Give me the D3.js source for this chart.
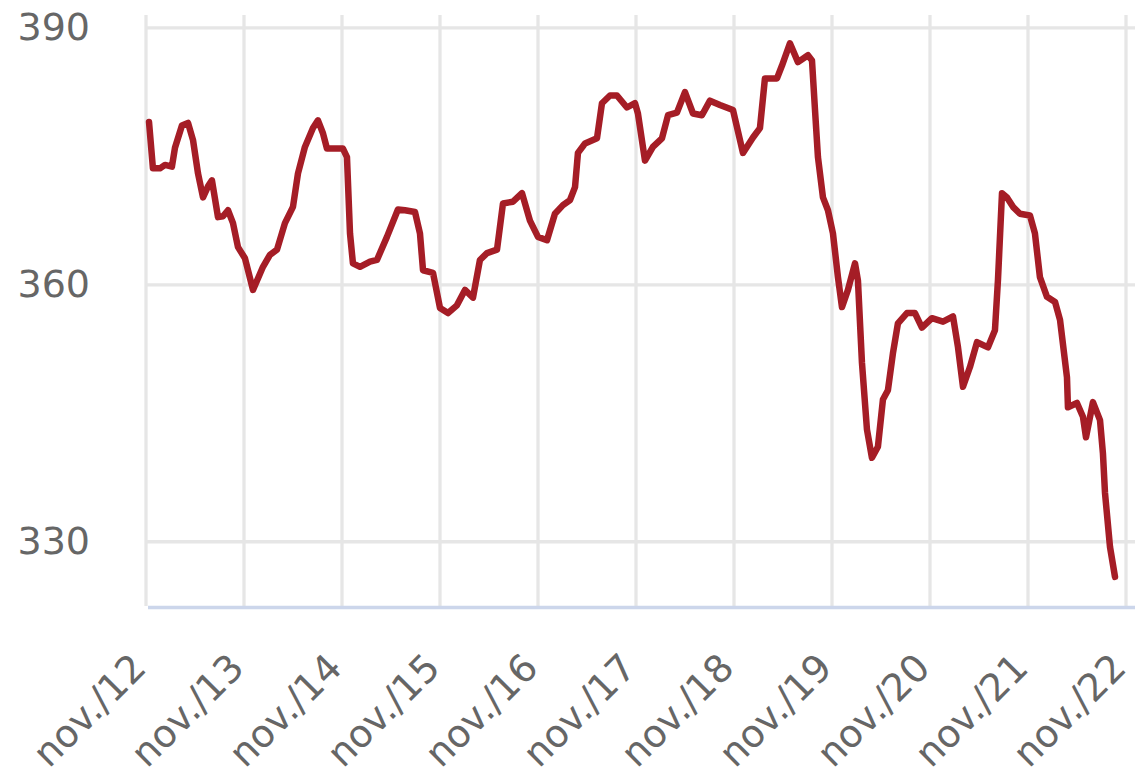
<!DOCTYPE html>
<html>
<head>
<meta charset="utf-8">
<script src="https://cdn.jsdelivr.net/npm/d3@7"></script>
<style>
  html, body { margin: 0; padding: 0; background: #ffffff; }
  svg { display: block; }
</style>
</head>
<body>
<svg id="chart" width="1135" height="778"></svg>
<script>
// ---- data (decimal years, values) ----
const years = [
  2012.864, 2012.904, 2012.976, 2013.027, 2013.098, 2013.129, 2013.200, 2013.262, 2013.313, 2013.364,
  2013.415, 2013.466, 2013.506, 2013.568, 2013.619, 2013.670, 2013.721, 2013.772, 2013.843, 2013.925,
  2014.027, 2014.098, 2014.170, 2014.251, 2014.333, 2014.384, 2014.455, 2014.537, 2014.588, 2014.639,
  2014.680, 2014.762, 2014.843, 2014.884, 2014.915, 2014.945, 2015.017, 2015.119, 2015.190, 2015.292,
  2015.404, 2015.476, 2015.578, 2015.629, 2015.660, 2015.762, 2015.833, 2015.915, 2016.006, 2016.088,
  2016.170, 2016.241, 2016.313, 2016.415, 2016.476, 2016.578, 2016.670, 2016.751, 2016.833, 2016.925,
  2017.006, 2017.088, 2017.160, 2017.211, 2017.241, 2017.313, 2017.435, 2017.486, 2017.568, 2017.639,
  2017.741, 2017.823, 2017.853, 2017.925, 2018.006, 2018.098, 2018.160, 2018.251, 2018.333, 2018.415,
  2018.506, 2018.588, 2018.690, 2018.823, 2018.925, 2019.027, 2019.098, 2019.149, 2019.272, 2019.323,
  2019.404, 2019.486, 2019.588, 2019.629, 2019.660, 2019.690, 2019.741, 2019.792, 2019.843, 2019.894,
  2019.935, 2019.996, 2020.068, 2020.098, 2020.139, 2020.190, 2020.241, 2020.302, 2020.353, 2020.404,
  2020.455, 2020.506, 2020.598, 2020.680, 2020.751, 2020.853, 2020.966, 2021.068, 2021.119, 2021.170,
  2021.241, 2021.313, 2021.425, 2021.496, 2021.527, 2021.568, 2021.619, 2021.680, 2021.751, 2021.853,
  2021.904, 2021.955, 2022.027, 2022.109, 2022.160, 2022.231, 2022.241, 2022.333, 2022.394, 2022.425,
  2022.496, 2022.568, 2022.598, 2022.619, 2022.670, 2022.721
];
const values = [
  379.0, 373.6, 373.6, 374.0, 373.8, 376.0, 378.6, 378.9, 376.9, 373.0,
  370.2, 371.5, 372.2, 367.9, 368.0, 368.7, 367.2, 364.4, 363.1, 359.4,
  362.1, 363.5, 364.1, 367.2, 369.1, 373.0, 376.1, 378.3, 379.2, 377.7,
  375.9, 375.9, 375.9, 374.9, 366.0, 362.5, 362.1, 362.7, 362.9, 365.6,
  368.8, 368.7, 368.5, 366.0, 361.7, 361.4, 357.3, 356.7, 357.6, 359.4,
  358.5, 362.9, 363.7, 364.1, 369.5, 369.7, 370.7, 367.5, 365.6, 365.2,
  368.3, 369.3, 369.9, 371.4, 375.4, 376.5, 377.1, 381.2, 382.1, 382.1,
  380.7, 381.2, 380.0, 374.5, 376.1, 377.1, 379.8, 380.1, 382.5, 380.0,
  379.8, 381.5, 381.0, 380.4, 375.4, 377.2, 378.3, 384.1, 384.1, 385.6,
  388.2, 386.0, 386.8, 386.2, 380.4, 374.9, 370.2, 368.7, 366.0, 360.9,
  357.4, 359.4, 362.5, 360.5, 350.9, 343.1, 339.8, 341.1, 346.6, 347.7,
  352.0, 355.5, 356.7, 356.7, 355.0, 356.1, 355.7, 356.3, 352.7, 348.1,
  350.4, 353.3, 352.7, 354.7, 360.6, 370.7, 370.2, 369.1, 368.3, 368.1,
  366.0, 360.9, 358.6, 358.0, 355.9, 349.2, 345.7, 346.2, 344.6, 342.2,
  346.3, 344.2, 340.3, 335.7, 329.4, 325.9
];
const xTickYears = [2012.8333, 2013.8333, 2014.8333, 2015.8333, 2016.8333, 2017.8333,
                    2018.8333, 2019.8333, 2020.8333, 2021.8333, 2022.8333];
const xTickLabels = ["nov./12", "nov./13", "nov./14", "nov./15", "nov./16", "nov./17",
                     "nov./18", "nov./19", "nov./20", "nov./21", "nov./22"];
const yTicks = [330, 360, 390];

// ---- layout ----
const W = 1135, H = 778;
const plot = { left: 146, right: 1126, top: 15, bottom: 606 };
const svg = d3.select("#chart");

const x = d3.scaleLinear().domain([xTickYears[0], xTickYears[xTickYears.length - 1]])
  .range([plot.left, plot.right]);
const y = d3.scaleLinear().domain([322.5, 391.5]).range([plot.bottom, plot.top]);

const font = "'DejaVu Sans', Verdana, sans-serif";
const gridColor = "#e6e6e6";

// vertical grid
svg.append("g").selectAll("line").data(xTickYears).join("line")
  .attr("x1", d => x(d)).attr("x2", d => x(d))
  .attr("y1", plot.top).attr("y2", plot.bottom)
  .attr("stroke", gridColor).attr("stroke-width", 3.3);

// horizontal grid
svg.append("g").selectAll("line").data(yTicks).join("line")
  .attr("x1", plot.left).attr("x2", W)
  .attr("y1", d => y(d)).attr("y2", d => y(d))
  .attr("stroke", gridColor).attr("stroke-width", 3.3);

// x axis line
svg.append("line")
  .attr("x1", plot.left + 2).attr("x2", W)
  .attr("y1", plot.bottom + 1.5).attr("y2", plot.bottom + 1.5)
  .attr("stroke", "#ccd6eb").attr("stroke-width", 3.3);

// y labels
svg.append("g").selectAll("text").data(yTicks).join("text")
  .attr("x", 90).attr("y", d => y(d) + 12)
  .attr("text-anchor", "end")
  .attr("font-family", font).attr("font-size", 38)
  .attr("fill", "#666666")
  .text(d => d);

// x labels
svg.append("g").selectAll("text").data(xTickYears).join("text")
  .attr("text-anchor", "end")
  .attr("font-family", font).attr("font-size", 38)
  .attr("fill", "#666666")
  .attr("transform", d => `translate(${x(d) + 2},670) rotate(-45)`)
  .text((d, i) => xTickLabels[i]);

// line
const pts = years.map((t, i) => [t, values[i]]);
const line = d3.line().x(d => x(d[0])).y(d => y(d[1]));
svg.append("path")
  .datum(pts)
  .attr("d", line)
  .attr("fill", "none")
  .attr("stroke", "#a51d26")
  .attr("stroke-width", 6.5)
  .attr("stroke-linejoin", "round")
  .attr("stroke-linecap", "round");
</script>
</body>
</html>
